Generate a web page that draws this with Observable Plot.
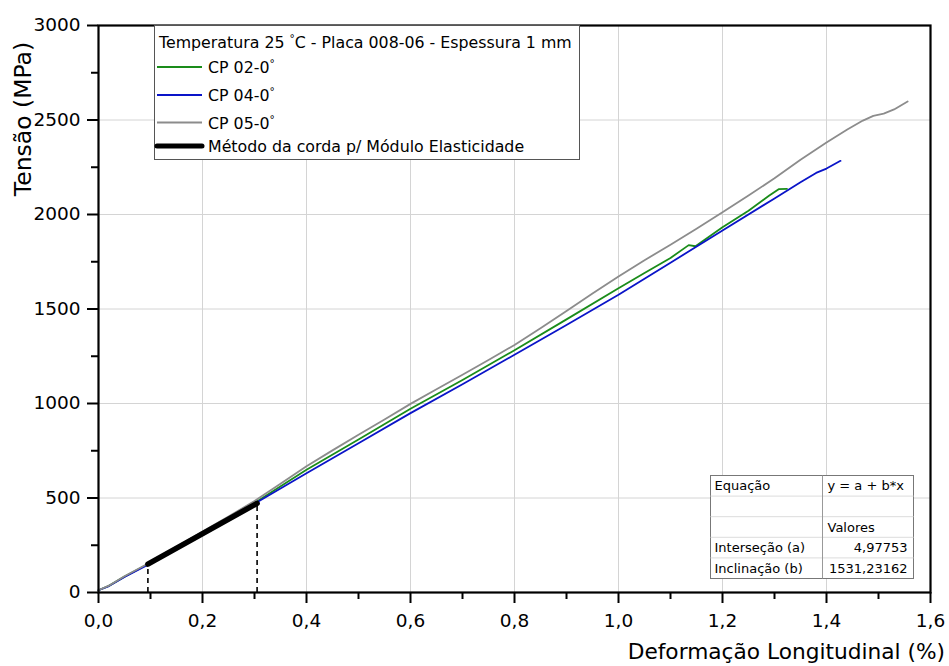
<!DOCTYPE html>
<html>
<head>
<meta charset="utf-8">
<script src="https://cdn.jsdelivr.net/npm/d3@7"></script>
<script src="https://cdn.jsdelivr.net/npm/@observablehq/plot@0.6"></script>
<style>
  html, body { margin: 0; padding: 0; background: white; }
  #chart { width: 949px; height: 666px; }
</style>
</head>
<body>
<div id="chart"></div>
<script>
// ---- data ----
const seriesNames = ["CP 02-0", "CP 04-0", "CP 05-0"];
const seriesColors = ["#1a8c1a", "#0a14c8", "#8c8c8c"];

const cp02X = [0, 0.02, 0.05, 0.1, 0.2, 0.3, 0.4, 0.5, 0.6, 0.7, 0.8, 0.9, 1.0, 1.05, 1.1, 1.135, 1.148, 1.2, 1.25, 1.29, 1.308, 1.324];
const cp02Y = [12, 35, 84, 157, 316, 474, 649, 810, 972, 1124, 1282, 1445, 1610, 1690, 1770, 1838, 1832, 1933, 2020, 2100, 2134, 2136];

const cp04X = [0, 0.02, 0.05, 0.1, 0.2, 0.3, 0.4, 0.5, 0.6, 0.7, 0.8, 0.9, 1.0, 1.1, 1.2, 1.3, 1.35, 1.38, 1.4, 1.427];
const cp04Y = [12, 34, 82, 154, 312, 470, 631, 790, 949, 1102, 1258, 1415, 1575, 1745, 1915, 2085, 2171, 2220, 2243, 2284];

const cp05X = [0, 0.02, 0.05, 0.1, 0.15, 0.2, 0.25, 0.3, 0.35, 0.4, 0.45, 0.5, 0.55, 0.6, 0.65, 0.7, 0.75, 0.8, 0.85, 0.9, 0.95, 1.0, 1.05, 1.1, 1.15, 1.2, 1.25, 1.3, 1.35, 1.4, 1.44, 1.47, 1.49, 1.51, 1.53, 1.556];
const cp05Y = [12, 36, 86, 160, 241, 322, 402, 484, 575, 668, 752, 835, 915, 998, 1075, 1152, 1230, 1310, 1398, 1490, 1582, 1672, 1758, 1840, 1925, 2012, 2100, 2192, 2290, 2381, 2450, 2497, 2522, 2534, 2556, 2598];

const chordName = "Método da corda p/ Módulo Elasticidade";
const chordX = [0.095, 0.305];
const chordY = [150, 472];

const xTicks = [0, 0.2, 0.4, 0.6, 0.8, 1.0, 1.2, 1.4, 1.6];
const xMinor = [0.1, 0.3, 0.5, 0.7, 0.9, 1.1, 1.3, 1.5];
const yTicks = [0, 500, 1000, 1500, 2000, 2500, 3000];
const yMinor = [250, 750, 1250, 1750, 2250, 2750];

const xLabel = "Deformação Longitudinal (%)";
const yLabel = "Tensão (MPa)";
const legendTitle = ["Temperatura 25 ", "°", "C - Placa 008-06 - Espessura 1 mm"];

const tableRows = [
  ["Equação", "y = a + b*x"],
  ["", ""],
  ["", "Valores"],
  ["Interseção (a)", "4,97753"],
  ["Inclinação (b)", "1531,23162"]
];

// ---- build tables ----
const curves = [];
[[cp02X, cp02Y], [cp04X, cp04Y], [cp05X, cp05Y]].forEach(([xs, ys], i) => {
  xs.forEach((x, j) => curves.push({series: seriesNames[i], x, y: ys[j]}));
});
const chord = chordX.map((x, i) => ({x, y: chordY[i]}));
const fmtX = d => d.toFixed(1).replace(".", ",");

const FONT = "DejaVu Sans, Verdana, sans-serif";

const svg = Plot.plot({
  width: 949,
  height: 666,
  marginLeft: 98,
  marginRight: 19,
  marginTop: 25,
  marginBottom: 74,
  style: {fontFamily: FONT, fontSize: "18.5px", color: "black", background: "white"},
  x: {domain: [0, 1.6]},
  y: {domain: [0, 3000]},
  color: {domain: seriesNames, range: seriesColors},
  marks: [
    Plot.gridX(xTicks, {stroke: "#d4d4d4", strokeOpacity: 1, strokeWidth: 1}),
    Plot.gridY(yTicks, {stroke: "#d4d4d4", strokeOpacity: 1, strokeWidth: 1}),
    Plot.line(curves, {x: "x", y: "y", z: "series", stroke: "series", strokeWidth: 1.8}),
    Plot.ruleX(chord, {x: "x", y1: 0, y2: "y", stroke: "black", strokeWidth: 1.6, strokeDasharray: "5,4"}),
    Plot.line(chord, {x: "x", y: "y", stroke: "black", strokeWidth: 5.5}),
    Plot.frame({stroke: "black", strokeWidth: 2.2}),
    Plot.axisX(xTicks, {tickSize: 11, tickPadding: 10, strokeWidth: 2, tickFormat: fmtX, label: null}),
    Plot.axisX(xMinor, {tickSize: 7, strokeWidth: 2, tickFormat: () => "", label: null}),
    Plot.axisY(yTicks, {tickSize: 11, tickPadding: 7, strokeWidth: 2, tickFormat: d => String(d), label: null}),
    Plot.axisY(yMinor, {tickSize: 7, strokeWidth: 2, tickFormat: () => "", label: null})
  ]
});
document.getElementById("chart").appendChild(svg);

// ---- axis titles, legend and table overlay ----
const s = d3.select(svg);

s.append("text")
  .attr("transform", "translate(31,119) rotate(-90)")
  .attr("text-anchor", "middle")
  .attr("font-family", FONT).attr("font-size", 23.5).attr("fill", "black")
  .text(yLabel);

s.append("text")
  .attr("x", 945).attr("y", 659)
  .attr("text-anchor", "end")
  .attr("font-family", FONT).attr("font-size", 21.7).attr("fill", "black")
  .text(xLabel);

// legend
const lg = s.append("g").attr("font-family", FONT).attr("font-size", 15.8)
  .attr("fill", "black").attr("text-anchor", "start");
lg.append("rect").attr("x", 154.5).attr("y", 25.5).attr("width", 425).attr("height", 134)
  .attr("fill", "white").attr("stroke", "#555").attr("stroke-width", 1);
const t = lg.append("text").attr("x", 159).attr("y", 47.5);
t.append("tspan").text(legendTitle[0]);
t.append("tspan").attr("dy", -6).attr("font-size", 10.5).text(legendTitle[1]);
t.append("tspan").attr("dy", 6).text(legendTitle[2]);

const rowsY = [67, 95, 122.5, 146];
seriesNames.forEach((name, i) => {
  lg.append("line").attr("x1", 157).attr("x2", 202).attr("y1", rowsY[i]).attr("y2", rowsY[i])
    .attr("stroke", seriesColors[i]).attr("stroke-width", 1.8);
  const tt = lg.append("text").attr("x", 208).attr("y", rowsY[i] + 6);
  tt.append("tspan").text(name);
  tt.append("tspan").attr("dy", -6).attr("font-size", 10.5).text("°");
});
lg.append("line").attr("x1", 157).attr("x2", 202).attr("y1", rowsY[3]).attr("y2", rowsY[3])
  .attr("stroke", "black").attr("stroke-width", 5).attr("stroke-linecap", "round");
lg.append("text").attr("x", 208).attr("y", rowsY[3] + 6).text(chordName);

// table
const tb = s.append("g").attr("font-family", FONT).attr("font-size", 13)
  .attr("fill", "black").attr("text-anchor", "start");
const tx0 = 710.5, tx1 = 822.5, tx2 = 913.5, ty0 = 475.5, rh = 20.6;
tb.append("rect").attr("x", tx0).attr("y", ty0).attr("width", tx2 - tx0).attr("height", rh * tableRows.length)
  .attr("fill", "white").attr("stroke", "#777").attr("stroke-width", 1);
for (let i = 1; i < tableRows.length; i++) {
  tb.append("line").attr("x1", tx0).attr("x2", tx2).attr("y1", ty0 + rh * i).attr("y2", ty0 + rh * i)
    .attr("stroke", "#dcdcdc").attr("stroke-width", 1);
}
tb.append("line").attr("x1", tx1).attr("x2", tx1).attr("y1", ty0).attr("y2", ty0 + rh * tableRows.length)
  .attr("stroke", "#999").attr("stroke-width", 1);
tableRows.forEach((r, i) => {
  const yy = ty0 + rh * i + rh / 2 + 4.5;
  tb.append("text").attr("x", tx0 + 4).attr("y", yy).attr("text-anchor", "start").text(r[0]);
  const numeric = i >= 3;
  tb.append("text").attr("x", numeric ? tx2 - 6 : tx1 + 5).attr("y", yy)
    .attr("text-anchor", numeric ? "end" : "start").text(r[1]);
});
</script>
</body>
</html>
